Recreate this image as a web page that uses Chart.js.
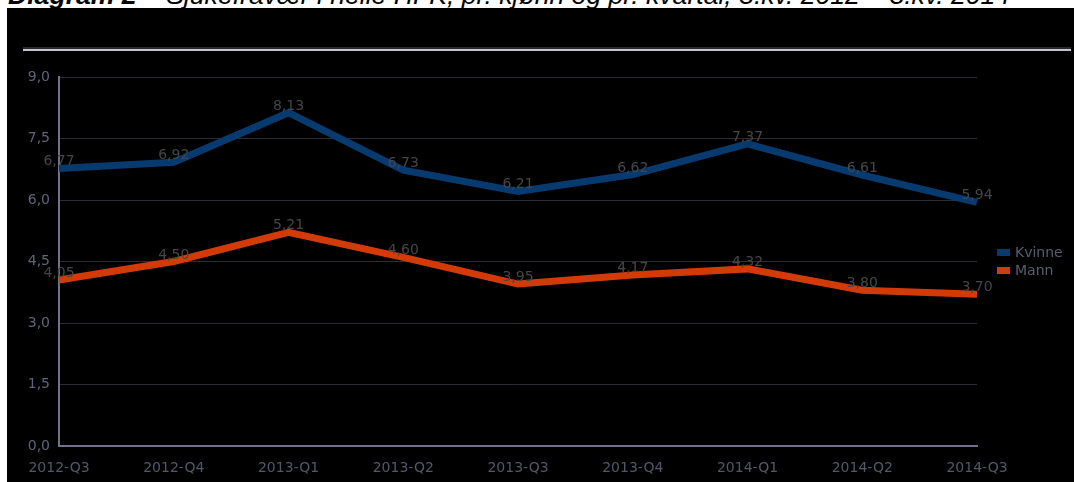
<!DOCTYPE html>
<html>
<head>
<meta charset="utf-8">
<script src="https://cdn.jsdelivr.net/npm/chart.js@4"></script>
<style>
  html, body { margin: 0; padding: 0; background: #fff; width: 1074px; height: 482px; overflow: hidden; }
  #title { position: absolute; left: 8px; top: -18px; font: italic 26.6px "Liberation Sans", Arial, sans-serif; line-height: 27px; color: #000; white-space: nowrap; }
  #title b { font-weight: bold; }
  #box { position: absolute; left: 7px; top: 8px; width: 1067px; height: 474px; background: #000; }
  #rule { position: absolute; left: 23px; top: 47px; width: 1048px; height: 2px; background: #2a2a2e; }
  #rule2 { position: absolute; left: 23px; top: 49px; width: 1048px; height: 2px; background: #c4c4cc; }
  canvas { position: absolute; left: 7px; top: 8px; }
</style>
</head>
<body>
<div id="title"><b>Diagram 2</b> – Sjukefravær i heile HFK, pr. kjønn og pr. kvartal, 3.kv. 2012 – 3.kv. 2014</div>
<div id="box"></div>
<canvas id="c" width="1067" height="474"></canvas>
<div id="rule"></div>
<div id="rule2"></div>
<script>
const categories = ["2012-Q3", "2012-Q4", "2013-Q1", "2013-Q2", "2013-Q3", "2013-Q4", "2014-Q1", "2014-Q2", "2014-Q3"];
const kvinne = [6.77, 6.92, 8.13, 6.73, 6.21, 6.62, 7.37, 6.61, 5.94];
const mann = [4.05, 4.50, 5.21, 4.60, 3.95, 4.17, 4.32, 3.80, 3.70];
const seriesNames = ["Kvinne", "Mann"];
const yTicks = [0, 1.5, 3, 4.5, 6, 7.5, 9];

const FONT = '"DejaVu Sans", Verdana, sans-serif';
const fmt = (v, d) => v.toFixed(d).replace('.', ',');

const valueLabels = {
  id: 'valueLabels',
  afterDatasetsDraw(chart) {
    const ctx = chart.ctx;
    ctx.save();
    ctx.font = '14px ' + FONT;
    ctx.fillStyle = '#46464a';
    ctx.textAlign = 'center';
    ctx.textBaseline = 'alphabetic';
    chart.data.datasets.forEach((ds, i) => {
      chart.getDatasetMeta(i).data.forEach((pt, j) => {
        ctx.fillText(fmt(ds.data[j], 2), pt.x, pt.y - 3);
      });
    });
    ctx.restore();
  }
};

const sideLegend = {
  id: 'sideLegend',
  afterDraw(chart) {
    const ctx = chart.ctx;
    ctx.save();
    ctx.font = '14px ' + FONT;
    ctx.textBaseline = 'middle';
    ctx.textAlign = 'left';
    chart.data.datasets.forEach((ds, i) => {
      const y = 241 + i * 18;
      ctx.fillStyle = ds.borderColor;
      ctx.fillRect(990, y, 13, 7);
      ctx.fillStyle = '#5c5c74';
      ctx.fillText(ds.label, 1008, y + 4);
    });
    ctx.restore();
  }
};

new Chart(document.getElementById('c'), {
  type: 'line',
  data: {
    labels: categories,
    datasets: [
      { label: seriesNames[0], data: kvinne, borderColor: '#073b70', backgroundColor: '#073b70', borderWidth: 7, pointRadius: 0, tension: 0, fill: false },
      { label: seriesNames[1], data: mann, borderColor: '#d23b05', backgroundColor: '#d23b05', borderWidth: 7, pointRadius: 0, tension: 0, fill: false }
    ]
  },
  options: {
    responsive: false,
    devicePixelRatio: 1,
    animation: false,
    layout: { padding: { top: 69, left: 0, right: 97, bottom: 0 } },
    plugins: { legend: { display: false }, tooltip: { enabled: false } },
    scales: {
      x: {
        grid: { display: false, drawTicks: false },
        border: { display: true, color: '#72728c', width: 2 },
        ticks: { color: '#55556c', font: { family: FONT, size: 14 }, padding: 14, maxRotation: 0, autoSkip: false },
        afterFit(s) { s.height = 36; }
      },
      y: {
        min: 0, max: 9,
        afterBuildTicks(s) { s.ticks = yTicks.map(v => ({ value: v })); },
        grid: { color: '#2c2c36', lineWidth: 1, drawTicks: false },
        border: { display: true, color: '#72728c', width: 2 },
        ticks: { color: '#62627a', font: { family: FONT, size: 14 }, padding: 9, callback: v => fmt(v, 1) },
        afterFit(s) { s.width = 52; }
      }
    }
  },
  plugins: [valueLabels, sideLegend]
});
</script>
</body>
</html>
